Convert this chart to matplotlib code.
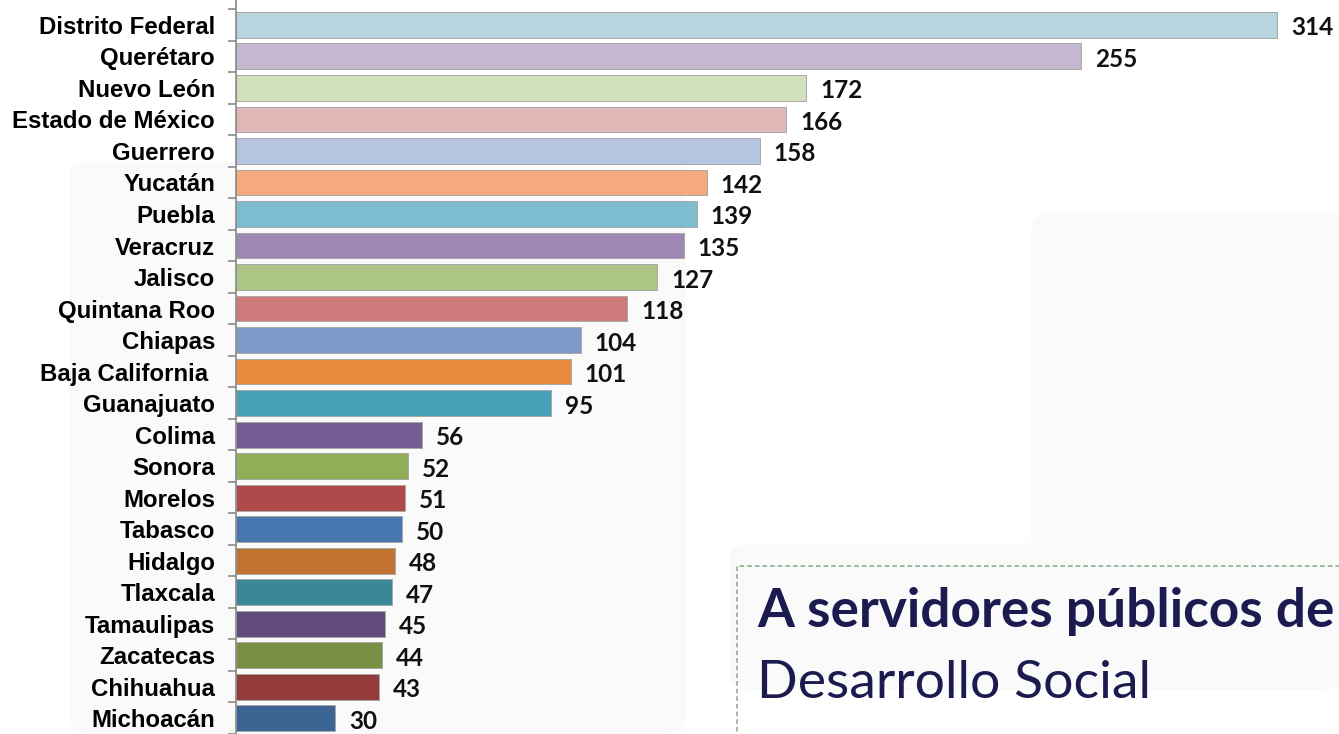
import numpy as np
import matplotlib
matplotlib.use('Agg')
import matplotlib.pyplot as plt
from matplotlib.patches import FancyBboxPatch, Rectangle


estados = [
    'Distrito Federal', 'Querétaro', 'Nuevo León', 'Estado de México', 'Guerrero',
    'Yucatán', 'Puebla', 'Veracruz', 'Jalisco', 'Quintana Roo', 'Chiapas',
    'Baja California ', 'Guanajuato', 'Colima', 'Sonora', 'Morelos', 'Tabasco',
    'Hidalgo', 'Tlaxcala', 'Tamaulipas', 'Zacatecas', 'Chihuahua', 'Michoacán'
]
valores = [314, 255, 172, 166, 158, 142, 139, 135, 127, 118, 104, 101, 95,
           56, 52, 51, 50, 48, 47, 45, 44, 43, 30]
colores = [
    '#b7d4df', '#c3b8d0', '#d1e0bb', '#e0b7b7', '#b5c4e0', '#f7a97d', '#7ebccf',
    '#9c88b3', '#adc686', '#cc7a7a', '#7d9bc8', '#e88b3f', '#46a1b8', '#765b95',
    '#8fae55', '#b04a4a', '#4876ae', '#c17432', '#3a8799', '#614c7c', '#788f44',
    '#923b3a', '#3d6594'
]

fig = plt.figure(figsize=(13.39, 7.34), dpi=100)
fig.patch.set_facecolor('white')

# faint slide background shapes (behind everything)
for (x, y, w, h) in [(0.052, 0.0, 0.46, 0.78), (0.77, 0.25, 0.25, 0.46), (0.545, 0.06, 0.46, 0.2)]:
    fig.patches.append(FancyBboxPatch((x, y), w, h, boxstyle='round,pad=0,rounding_size=0.02',
                                      transform=fig.transFigure, facecolor='#fafafa',
                                      edgecolor='none', zorder=-5))

ax = fig.add_axes([236 / 1339, 0, 1 - 236 / 1339, 1])
ax.set_zorder(1)
ax.patch.set_alpha(0)

y = np.arange(len(estados))
ax.barh(y, valores, height=0.82, color=colores, edgecolor='#a8a8a8', linewidth=0.7, zorder=2)

ax.set_xlim(0, 332.7)
ax.set_ylim(22.3, -0.79)

for yi, v in zip(y, valores):
    ax.annotate(str(v), (v, yi), xytext=(14, -3), textcoords='offset pixels',
                ha='left', va='center', fontsize=17.5, fontweight='bold',
                family='Lato', color='#111111', clip_on=False, annotation_clip=False)

for s in ['top', 'right', 'bottom']:
    ax.spines[s].set_visible(False)
ax.spines['left'].set_color('#8a8a8a')
ax.spines['left'].set_linewidth(1.2)
ax.set_xticks([])

ax.set_yticks(y)
ax.set_yticklabels(estados, fontsize=17.3, fontweight='bold', family='Liberation Sans')
ax.tick_params(axis='y', which='major', length=0, pad=15)
ax.set_yticks(np.arange(-0.5, len(estados), 1), minor=True)
ax.tick_params(axis='y', which='minor', length=6, width=1.2, color='#8a8a8a')

# text box in the lower right
box = Rectangle((737 / 1339, -0.05), 0.5, 1 - 566 / 734 + 0.05,
                transform=fig.transFigure, facecolor='none',
                edgecolor='#86a886', linestyle=(0, (3, 2)), linewidth=1.1, zorder=5)
fig.patches.append(box)
fig.text(757 / 1339, 1 - 612 / 734, 'A servidores públicos de', fontsize=38.3, fontweight='bold',
         family='Lato', color='#1c1b50', va='center', ha='left', zorder=6)
fig.text(757 / 1339, 1 - 683 / 734, 'Desarrollo Social', fontsize=38.5,
         family='Lato', color='#1c1b50', va='center', ha='left', zorder=6)

fig.savefig('out.png', dpi=100)
